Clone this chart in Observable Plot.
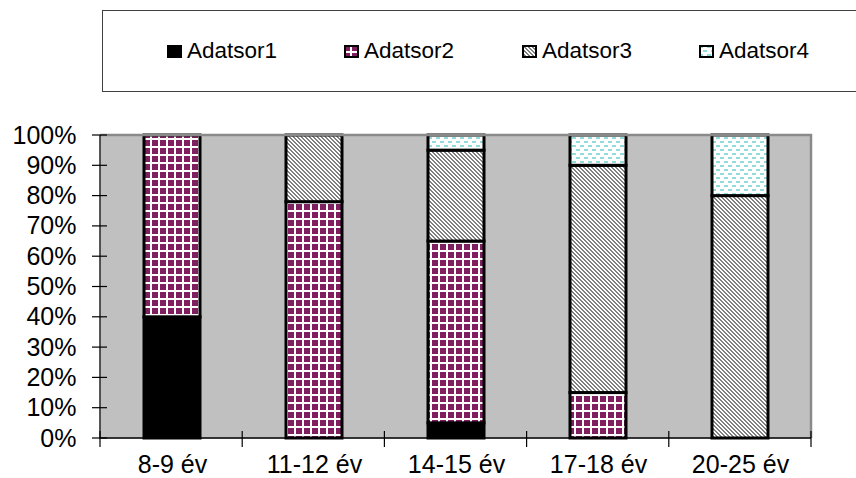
<!DOCTYPE html>
<html>
<head>
<meta charset="utf-8">
<script src="https://cdn.jsdelivr.net/npm/d3@7"></script>
<script src="https://cdn.jsdelivr.net/npm/@observablehq/plot@0.6"></script>
<style>
  body { margin: 0; background: #fff; font-family: "Liberation Sans", Arial, sans-serif; }
  #wrap { position: relative; width: 856px; height: 478px; overflow: hidden; background: #fff; }
  #legend { position: absolute; left: 102px; top: 10px; width: 800px; height: 82px; border: 1.5px solid #404040; box-sizing: border-box; }
  .sw { position: absolute; top: 45px; width: 15px; height: 13px; }
  .lt { position: absolute; top: 40px; font-size: 22.5px; line-height: 22px; color: #000; white-space: nowrap; }
  #chart { position: absolute; left: 0; top: 100px; }
</style>
</head>
<body>
<div id="wrap">
  <div id="legend"></div>
  <div id="chart"></div>
</div>
<script>
// ---- data ----
const categories = ["8-9 év", "11-12 év", "14-15 év", "17-18 év", "20-25 év"];
const seriesNames = ["Adatsor1", "Adatsor2", "Adatsor3", "Adatsor4"];
const adatsor1 = [40, 0, 5, 0, 0];
const adatsor2 = [60, 78, 60, 15, 0];
const adatsor3 = [0, 22, 30, 75, 80];
const adatsor4 = [0, 0, 5, 10, 20];
const yTicks = [0, 10, 20, 30, 40, 50, 60, 70, 80, 90, 100];

const seriesValues = [adatsor1, adatsor2, adatsor3, adatsor4];
const rows = [];
categories.forEach((cat, i) => {
  seriesNames.forEach((s, j) => {
    const v = seriesValues[j][i];
    if (v > 0) rows.push({cat, series: s, value: v});
  });
});

const PURPLE = "#7f1f60", GRAY = "#808080", CYAN = "#92dbdb";

function addPatterns(defs, prefix) {
  const p2 = defs.append("pattern").attr("id", prefix + "2").attr("patternUnits", "userSpaceOnUse")
    .attr("width", 8).attr("height", 8).attr("shape-rendering", "crispEdges");
  p2.append("rect").attr("width", 8).attr("height", 8).attr("fill", "#fff");
  p2.append("rect").attr("width", 6).attr("height", 6).attr("fill", PURPLE);

  const p3 = defs.append("pattern").attr("id", prefix + "3").attr("patternUnits", "userSpaceOnUse")
    .attr("width", 4).attr("height", 4).attr("shape-rendering", "crispEdges");
  p3.append("rect").attr("width", 4).attr("height", 4).attr("fill", "#fff");
  p3.append("path").attr("fill", GRAY)
    .attr("d", "M0,0h2v1h-2zM1,1h2v1h-2zM2,2h2v1h-2zM3,3h1v1h-1zM0,3h1v1h-1z");

  const p4 = defs.append("pattern").attr("id", prefix + "4").attr("patternUnits", "userSpaceOnUse")
    .attr("width", 8).attr("height", 8).attr("shape-rendering", "crispEdges");
  p4.append("rect").attr("width", 8).attr("height", 8).attr("fill", "#fff");
  p4.append("rect").attr("x", 0).attr("y", 1).attr("width", 4).attr("height", 2).attr("fill", CYAN);
  p4.append("rect").attr("x", 4).attr("y", 5).attr("width", 4).attr("height", 2).attr("fill", CYAN);
}

// custom frame/axis lines and cross ticks
function axesMark(index, scales, values, dims) {
  const {width, height, marginLeft: ml, marginRight: mr, marginTop: mt, marginBottom: mb} = dims;
  const x0 = ml, x1 = width - mr, y0 = height - mb, y1 = mt;
  const ys = (scales && typeof scales.y === "function") ? scales.y : (t => y0 - t / 100 * (y0 - y1));
  const g = d3.create("svg:g");
  g.append("path").attr("d", `M${x0},${y1}H${x1}V${y0}`).attr("fill", "none")
    .attr("stroke", "#8a8a8a").attr("stroke-width", 2.5);
  g.append("path").attr("d", `M${x0},${y1}V${y0}H${x1}`).attr("fill", "none")
    .attr("stroke", "#000").attr("stroke-width", 1.3);
  for (const t of yTicks) {
    const y = ys(t);
    g.append("line").attr("x1", x0 - 8).attr("x2", x0 + 7).attr("y1", y).attr("y2", y)
      .attr("stroke", "#000").attr("stroke-width", 1.2);
  }
  const step = (x1 - x0) / categories.length;
  for (let i = 0; i <= categories.length; i++) {
    const x = x0 + i * step;
    g.append("line").attr("x1", x).attr("x2", x).attr("y1", y0 - 7).attr("y2", y0 + 9)
      .attr("stroke", "#000").attr("stroke-width", 1.2);
  }
  return g.node();
}

const plot = Plot.plot({
  width: 856,
  height: 378,
  marginTop: 35,
  marginBottom: 40,
  marginLeft: 100,
  marginRight: 45,
  style: {fontSize: "25px", fontFamily: "'Liberation Sans', Arial, sans-serif", background: "transparent", overflow: "visible", color: "#000"},
  x: {domain: categories, padding: 0, label: null},
  y: {domain: [0, 100], label: null},
  color: {domain: seriesNames, range: ["#000000", "url(#pat2)", "url(#pat3)", "url(#pat4)"]},
  marks: [
    Plot.frame({fill: "#c0c0c0", stroke: "none"}),
    Plot.barY(rows, {x: "cat", y: "value", fill: "series", stroke: "#000", strokeWidth: 3,
      insetLeft: 43, insetRight: 43}),
    axesMark,
    Plot.axisY({ticks: yTicks, tickSize: 0, tickPadding: 24, tickFormat: d => d + "%", fontSize: 25, label: null}),
    Plot.axisX({tickSize: 0, tickPadding: 17, fontSize: 25, label: null})
  ]
});

addPatterns(d3.select(plot).insert("defs", ":first-child"), "pat");
document.getElementById("chart").appendChild(plot);

// legend
const legend = d3.select("#wrap");
const legendX = [167, 344, 522, 699];
const swFill = ["#000000", "url(#lp2)", "url(#lp3)", "url(#lp4)"];
seriesNames.forEach((s, i) => {
  const sv = legend.append("svg").attr("class", "sw").style("left", legendX[i] + "px")
    .attr("width", 15).attr("height", 13);
  if (i === 0) addPatterns(sv.append("defs"), "lp");
  sv.append("rect").attr("x", 1).attr("y", 1).attr("width", 13).attr("height", 11)
    .attr("fill", swFill[i]).attr("stroke", "#000").attr("stroke-width", 2);
  legend.append("div").attr("class", "lt").style("left", (legendX[i] + 20) + "px").text(s);
});
</script>
</body>
</html>
